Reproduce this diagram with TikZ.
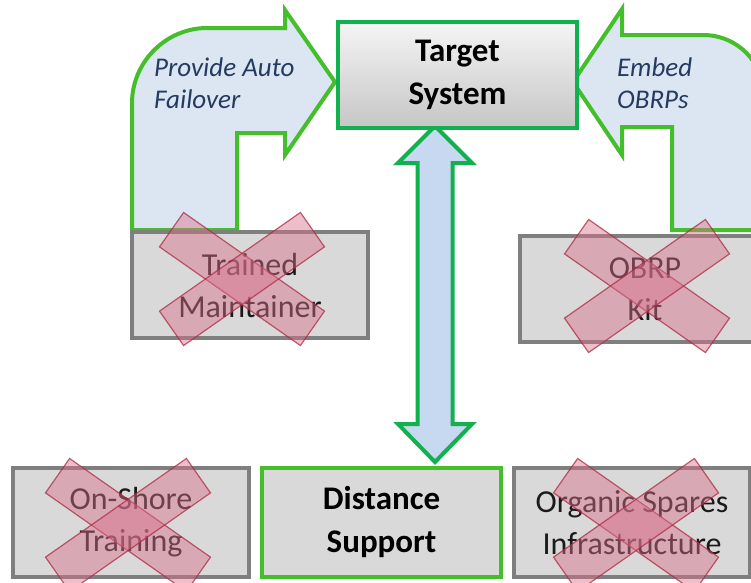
\documentclass[tikz,border=0pt]{standalone}
\usepackage{fontspec}
\setmainfont{Carlito}
\usepackage{tikz}
\usetikzlibrary{
	positioning,
	arrows.meta
}

\definecolor{boxgray}{HTML}{D9D9D9}
\definecolor{edgegray}{HTML}{7F7F7F}
\definecolor{textgray}{HTML}{1A1A1A}
\definecolor{leafgreen}{HTML}{44BE2A}
\definecolor{teamgreen}{HTML}{12B04E}
\definecolor{bentfill}{HTML}{DCE6F2}
\definecolor{linkfill}{HTML}{C6D9F1}
\definecolor{notecolor}{HTML}{243A5E}
\definecolor{crossfill}{HTML}{D8708A}
\definecolor{crossedge}{HTML}{B02A44}

\begin{document}
\begin{tikzpicture}[
		x=1pt, y=-1pt,
		box/.style={rectangle, draw=edgegray, line width=4pt, fill=boxgray,
			minimum width=236pt, minimum height=106pt, align=center,
			text=textgray, font=\fontsize{32}{42}\selectfont},
		keybox/.style={box, draw=leafgreen, text=black,
			font=\bfseries\fontsize{33}{43}\selectfont},
		bent/.style={draw=leafgreen, line width=4pt, fill=bentfill, line join=miter},
		link/.style={draw=teamgreen, line width=4pt, fill=linkfill, line join=miter},
		bar/.style={rectangle, inner sep=0pt, minimum width=172pt, minimum height=42pt,
			fill=crossfill, fill opacity=0.45, draw=crossedge, draw opacity=0.75,
			line width=1.2pt},
		note/.style={anchor=west, inner sep=0pt, align=left, text=notecolor,
			font=\itshape\fontsize{27}{32}\selectfont}
	]
	\clip (0,0) rectangle (751,582);

	% bent arrows into the target system
	\draw[bent] (132,230) -- (132,103) .. controls (132,62) and (166,28) .. (207,28)
		-- (285,28) -- (285,10) -- (335,82) -- (285,155) -- (285,133)
		-- (237,133) -- (237,230) -- cycle;
	\draw[bent] (573,82) -- (622,9) -- (622,35) -- (703,35)
		.. controls (737,35) and (764,62) .. (764,96)
		-- (764,230) -- (672,230) -- (672,127) -- (622,127) -- (622,155) -- cycle;
	\node[note] (auto) at (154,83) {Provide Auto\\Failover};
	\node[note] (embed) at (617,83) {Embed\\OBRPs};

	% link to distance support
	\draw[link] (435,126) -- (472,163) -- (452.5,163) -- (452.5,424) -- (472,424)
		-- (435,462) -- (398,424) -- (417.5,424) -- (417.5,163) -- (398,163) -- cycle;

	\draw
		node [keybox,draw=teamgreen,top color=gray!8,bottom color=gray!45,
			minimum width=239pt] (ts) at (457.5,75) {Target\\System}
		node [box]                         (tm)  at (250,285)   {Trained\\Maintainer}
		node [box,minimum width=250pt]     (kit) at (645,289)   {OBRP\\Kit}
		node [box,minimum height=109pt]    (ost) at (131,522.5) {On-Shore\\Training}
		node [keybox,minimum height=109pt,
			minimum width=239pt, right=9pt of ost] (ds) {Distance\\Support}
		node [box,minimum height=109pt,
			right=9pt of ds]                 (osi) {Organic Spares\\Infrastructure}
	;

	% crossed out
	\foreach \cx/\cy in {242/279, 647/286, 128/525, 636/525}{
		\node[bar,rotate=-35] at (\cx,\cy) {};
		\node[bar,rotate=35]  at (\cx,\cy) {};
	}
\end{tikzpicture}
\end{document}
